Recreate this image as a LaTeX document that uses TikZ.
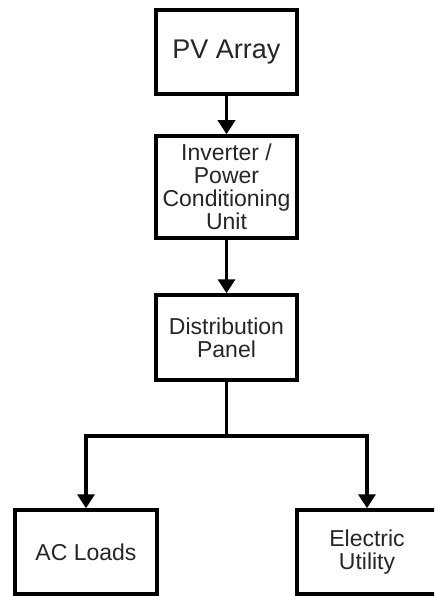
\documentclass[tikz,border=0pt]{standalone}
\usepackage{fontspec}
\setmainfont{Liberation Sans}
\usetikzlibrary{arrows.meta}
\begin{document}
\begin{tikzpicture}[x=1pt,y=-1pt,
  blk/.style={draw=black, line width=3.5pt, fill=white, align=center, text=black!85,
    font=\fontsize{23}{23}\selectfont, inner sep=0pt},
  conn/.style={line width=3.5pt, draw=black},
  arr/.style={conn, -{Triangle[length=14pt,width=17pt]}}]
\path[use as bounding box, clip] (0,0) rectangle (434,596);
\fill[white] (0,0) rectangle (434,596);
\node[blk, minimum width=141pt, minimum height=84pt, font=\fontsize{27}{28}\selectfont] (pv) at (226.5,52) {PV Array};
\node[blk, minimum width=141pt, minimum height=102pt] (inv) at (226.5,187) {Inverter /\\Power\\Conditioning\\Unit};
\node[blk, minimum width=141pt, minimum height=85pt] (dist) at (226.5,337.5) {Distribution\\Panel};
\node[blk, minimum width=142pt, minimum height=84pt] (ac) at (86,552) {AC Loads};
\node[blk, minimum width=140pt, minimum height=84pt] (eu) at (367,552) {Electric\\Utility};
\draw[arr] (pv) -- (inv);
\draw[arr] (inv) -- (dist);
\draw[conn] (dist.south) -- ++(0,54) coordinate (bus);
\draw[arr] (bus) -| (ac.north);
\draw[arr] (bus) -| (eu.north);
\end{tikzpicture}
\end{document}
